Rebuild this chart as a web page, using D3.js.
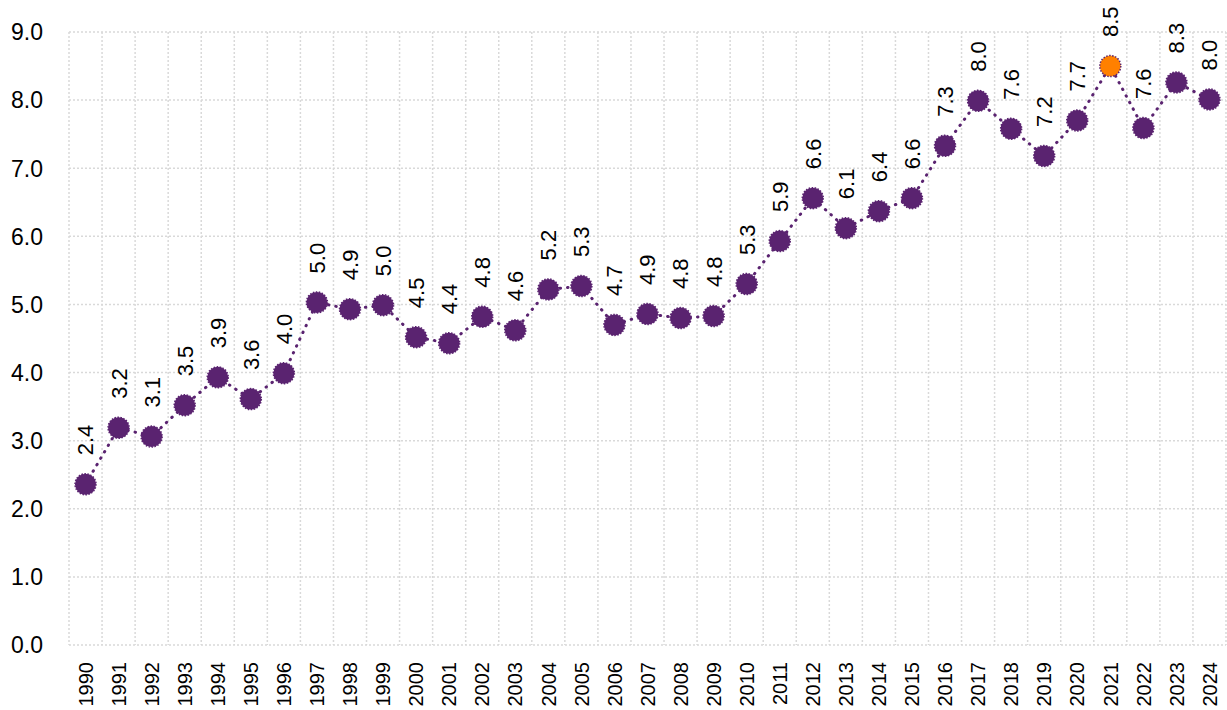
<!DOCTYPE html>
<html>
<head>
<meta charset="utf-8">
<script src="https://cdn.jsdelivr.net/npm/d3@7"></script>
<style>
  body { margin: 0; background: #fff; }
  text { font-family: "Liberation Sans", Arial, sans-serif; fill: #000; }
</style>
</head>
<body>
<div id="chart"></div>
<script>
// years on the x axis
var years = ["1990","1991","1992","1993","1994","1995","1996","1997","1998","1999",
  "2000","2001","2002","2003","2004","2005","2006","2007","2008","2009",
  "2010","2011","2012","2013","2014","2015","2016","2017","2018","2019",
  "2020","2021","2022","2023","2024"];

// values
var values = [2.36, 3.19, 3.06, 3.52, 3.93, 3.61, 3.99, 5.03, 4.93, 4.99,
  4.52, 4.43, 4.82, 4.62, 5.22, 5.27, 4.70, 4.86, 4.80, 4.83,
  5.30, 5.93, 6.56, 6.12, 6.37, 6.56, 7.33, 7.99, 7.58, 7.18,
  7.70, 8.50, 7.59, 8.26, 8.01];

// highlighted year
var highlightYear = "2021";

var yTicks = [0, 1, 2, 3, 4, 5, 6, 7, 8, 9];

var width = 1227, height = 710;
var margin = {top: 32, right: 1, bottom: 65, left: 69};

var svg = d3.select("#chart").append("svg")
  .attr("width", width)
  .attr("height", height);

var x = d3.scaleBand()
  .domain(years)
  .range([margin.left, width - margin.right]);

var y = d3.scaleLinear()
  .domain([0, 9])
  .range([height - margin.bottom, margin.top]);

var grid = svg.append("g");

//horizontal gridlines
grid.selectAll("line.h")
  .data(yTicks)
  .enter()
  .append("line")
  .attr("x1", margin.left)
  .attr("x2", width - margin.right)
  .attr("y1", function(d) { return y(d); })
  .attr("y2", function(d) { return y(d); })
  .style("stroke", "#d9d9d9")
  .style("stroke-width", 1.5)
  .style("stroke-dasharray", "2,2");

//vertical gridlines at category borders
var borders = years.map(function(d) { return x(d); }).concat([x(years[years.length - 1]) + x.bandwidth()]);
grid.selectAll("line.v")
  .data(borders)
  .enter()
  .append("line")
  .attr("x1", function(d) { return d; })
  .attr("x2", function(d) { return d; })
  .attr("y1", y(9))
  .attr("y2", y(0))
  .style("stroke", "#d9d9d9")
  .style("stroke-width", 1.5)
  .style("stroke-dasharray", "2,2");

//y axis labels
svg.append("g").selectAll("text")
  .data(yTicks)
  .enter()
  .append("text")
  .attr("x", 43)
  .attr("y", function(d) { return y(d); })
  .attr("dy", "0.36em")
  .attr("text-anchor", "end")
  .style("font-size", "23px")
  .text(function(d) { return d.toFixed(1); });

//x axis labels, rotated
svg.append("g").selectAll("text")
  .data(years)
  .enter()
  .append("text")
  .attr("transform", function(d) {
    return "translate(" + (x(d) + x.bandwidth() / 2) + "," + (y(0) + 17) + ") rotate(-90)";
  })
  .attr("dy", "0.36em")
  .attr("text-anchor", "end")
  .style("font-size", "20px")
  .text(function(d) { return d; });

var purple = "#5a2370";

//dotted connecting line
var line = d3.line()
  .x(function(d, i) { return x(years[i]) + x.bandwidth() / 2; })
  .y(function(d) { return y(d); });

svg.append("path")
  .datum(values)
  .attr("d", line)
  .style("fill", "none")
  .style("stroke", purple)
  .style("stroke-width", 3)
  .style("stroke-linecap", "round")
  .style("stroke-dasharray", "0.5,7");

//markers
svg.append("g").selectAll("circle")
  .data(values)
  .enter()
  .append("circle")
  .attr("cx", function(d, i) { return x(years[i]) + x.bandwidth() / 2; })
  .attr("cy", function(d) { return y(d); })
  .attr("r", 10.5)
  .style("fill", function(d, i) { return years[i] == highlightYear ? "#ff8000" : purple; })
  .style("stroke", purple)
  .style("stroke-width", 1.5)
  .style("stroke-dasharray", "1.5,1.5");

//data labels
svg.append("g").selectAll("text")
  .data(values)
  .enter()
  .append("text")
  .attr("transform", function(d, i) {
    return "translate(" + (x(years[i]) + x.bandwidth() / 2) + "," + (y(d) - 29) + ") rotate(-90)";
  })
  .attr("dy", "0.36em")
  .attr("text-anchor", "start")
  .style("font-size", "22px")
  .text(function(d) { return d.toFixed(1); });
</script>
</body>
</html>
